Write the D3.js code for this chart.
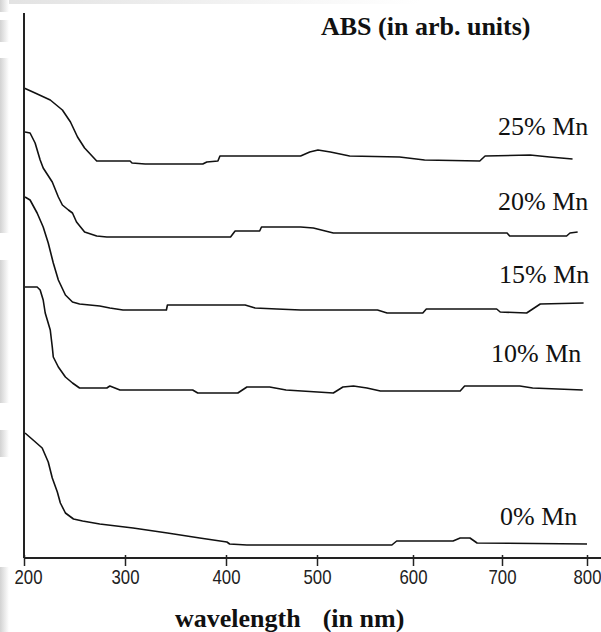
<!DOCTYPE html>
<html>
<head>
<meta charset="utf-8">
<script src="https://cdn.jsdelivr.net/npm/d3@7"></script>
<style>
body { margin: 0; background: #fff; }
svg { display: block; }
</style>
</head>
<body>
<svg width="601" height="632"></svg>
<script>
// wavelength ticks (nm)
var xTicks = [200, 300, 400, 500, 600, 700, 800];

var seriesNames = ["25% Mn", "20% Mn", "15% Mn", "10% Mn", "0% Mn"];

// absorbance curves (nm, arb. units)
var nm25  = [200, 211, 226, 238, 246, 253, 260, 272, 305, 307, 320, 377, 381, 392, 394, 482, 492, 501, 514, 534, 586, 613, 675, 681, 733, 756, 783];
var abs25 = [4.70, 4.65, 4.58, 4.48, 4.36, 4.21, 4.10, 3.97, 3.97, 3.95, 3.94, 3.94, 3.96, 3.97, 4.02, 4.02, 4.06, 4.08, 4.06, 4.02, 4.01, 3.98, 3.97, 4.02, 4.03, 4.01, 3.99];

var nm20  = [201, 206, 211, 216, 219, 228, 234, 238, 244, 248, 252, 260, 272, 282, 405, 410, 437, 439, 482, 496, 517, 706, 709, 776, 780, 789];
var abs20 = [4.26, 4.25, 4.15, 3.98, 3.90, 3.76, 3.61, 3.53, 3.48, 3.45, 3.36, 3.26, 3.22, 3.21, 3.21, 3.27, 3.27, 3.31, 3.31, 3.30, 3.25, 3.25, 3.22, 3.22, 3.25, 3.26];

var nm15  = [201, 206, 213, 219, 224, 229, 234, 241, 248, 255, 275, 285, 298, 341, 342, 421, 432, 456, 482, 563, 573, 611, 615, 694, 698, 729, 745, 796];
var abs15 = [3.61, 3.58, 3.45, 3.31, 3.15, 2.95, 2.78, 2.63, 2.56, 2.54, 2.52, 2.50, 2.48, 2.48, 2.53, 2.53, 2.50, 2.49, 2.48, 2.48, 2.45, 2.45, 2.49, 2.49, 2.46, 2.45, 2.54, 2.55];

var nm10  = [201, 213, 216, 219, 221, 226, 228, 229, 234, 241, 248, 255, 282, 285, 295, 367, 372, 413, 423, 448, 466, 517, 527, 538, 552, 566, 653, 658, 721, 736, 795];
var abs10 = [2.71, 2.71, 2.68, 2.58, 2.45, 2.28, 2.11, 2.01, 1.91, 1.81, 1.75, 1.70, 1.70, 1.72, 1.68, 1.68, 1.65, 1.65, 1.71, 1.71, 1.68, 1.65, 1.71, 1.72, 1.70, 1.67, 1.67, 1.72, 1.72, 1.70, 1.68];

var nm0   = [201, 209, 218, 224, 228, 233, 236, 241, 249, 258, 275, 308, 342, 374, 401, 404, 423, 578, 583, 645, 653, 664, 672, 800];
var abs0  = [1.25, 1.18, 1.10, 0.96, 0.80, 0.66, 0.55, 0.45, 0.39, 0.37, 0.34, 0.30, 0.25, 0.20, 0.16, 0.14, 0.13, 0.13, 0.17, 0.17, 0.20, 0.20, 0.15, 0.14];

var series = [
  {name: seriesNames[0], nm: nm25, abs: abs25, lx: 498, ly: 135},
  {name: seriesNames[1], nm: nm20, abs: abs20, lx: 498, ly: 210},
  {name: seriesNames[2], nm: nm15, abs: abs15, lx: 499, ly: 283},
  {name: seriesNames[3], nm: nm10, abs: abs10, lx: 491, ly: 362},
  {name: seriesNames[4], nm: nm0,  abs: abs0,  lx: 500, ly: 525}
];

var svg = d3.select("svg"),
    width = 601,
    height = 632,
    x0 = 24, yBase = 558, yTop = 13;

// scan artefacts on the left / top edge
var grad = svg.append("defs").append("linearGradient").attr("id", "edge");
grad.append("stop").attr("offset", "0%").attr("stop-color", "#d2d2d2");
grad.append("stop").attr("offset", "100%").attr("stop-color", "#fff");
var grad2 = svg.select("defs").append("linearGradient").attr("id", "topedge");
grad2.append("stop").attr("offset", "0%").attr("stop-color", "#e2e2e2");
grad2.append("stop").attr("offset", "100%").attr("stop-color", "#fff");
svg.append("rect").attr("x", 0).attr("y", 0).attr("width", 420).attr("height", 4).attr("fill", "url(#topedge)");
[[0, 12], [20, 42], [58, 233], [260, 403], [430, 457], [567, 632]].forEach(function (b) {
  svg.append("rect").attr("x", 0).attr("y", b[0]).attr("width", 9).attr("height", b[1] - b[0]).attr("fill", "url(#edge)");
});

// the printed axis is not evenly spaced, so map each tick separately
var x = d3.scaleLinear()
    .domain(xTicks)
    .range([24, 125, 226, 317, 413, 502, 587]);

var y = d3.scaleLinear()
    .domain([0, 5.45])
    .range([yBase, yTop]);

var line = d3.line()
    .x(function (d) { return x(d[0]); })
    .y(function (d) { return y(d[1]); });

svg.append("g")
  .selectAll("path")
  .data(series)
  .enter()
  .append("path")
  .attr("d", function (d) { return line(d3.zip(d.nm, d.abs)); })
  .attr("fill", "none")
  .attr("stroke", "#111")
  .attr("stroke-width", 1.6)
  .attr("stroke-linejoin", "round");

// axes
var gx = svg.append("g")
    .attr("transform", "translate(0," + yBase + ")")
    .call(d3.axisBottom(x).tickValues(xTicks).tickSize(8).tickPadding(4));
gx.select(".domain").remove();
gx.selectAll(".tick line").attr("y1", -3).attr("stroke", "#222").attr("stroke-width", 1.5);
// narrow digits like the original
gx.selectAll(".tick text")
  .attr("font-family", "'Liberation Sans', Arial, sans-serif")
  .attr("font-size", 20)
  .attr("fill", "#222")
  .attr("transform", function (d) { return (d == 200 ? "translate(4,0) " : "") + "scale(0.84,1)"; });

svg.append("line")
  .attr("x1", x0).attr("x2", width)
  .attr("y1", yBase).attr("y2", yBase)
  .attr("stroke", "#222").attr("stroke-width", 2);
svg.append("line")
  .attr("x1", x0).attr("x2", x0)
  .attr("y1", yTop).attr("y2", yBase)
  .attr("stroke", "#222").attr("stroke-width", 2);

// series labels
svg.selectAll(".lab")
  .data(series)
  .enter()
  .append("text")
  .attr("x", function (d) { return d.lx; })
  .attr("y", function (d) { return d.ly; })
  .attr("font-family", "'Liberation Serif', 'Times New Roman', serif")
  .attr("font-size", 26)
  .attr("fill", "#111")
  .text(function (d) { return d.name; });

svg.append("text")
  .attr("x", 321).attr("y", 35)
  .attr("font-family", "'Liberation Serif', 'Times New Roman', serif")
  .attr("font-size", 26).attr("font-weight", "bold").attr("fill", "#111")
  .text("ABS (in arb. units)");

var xl = svg.append("text")
  .attr("x", 175).attr("y", 627)
  .attr("font-family", "'Liberation Serif', 'Times New Roman', serif")
  .attr("font-size", 26).attr("font-weight", "bold").attr("fill", "#111");
xl.append("tspan").text("wavelength");
xl.append("tspan").attr("dx", 22).text("(in nm)");
</script>
</body>
</html>
